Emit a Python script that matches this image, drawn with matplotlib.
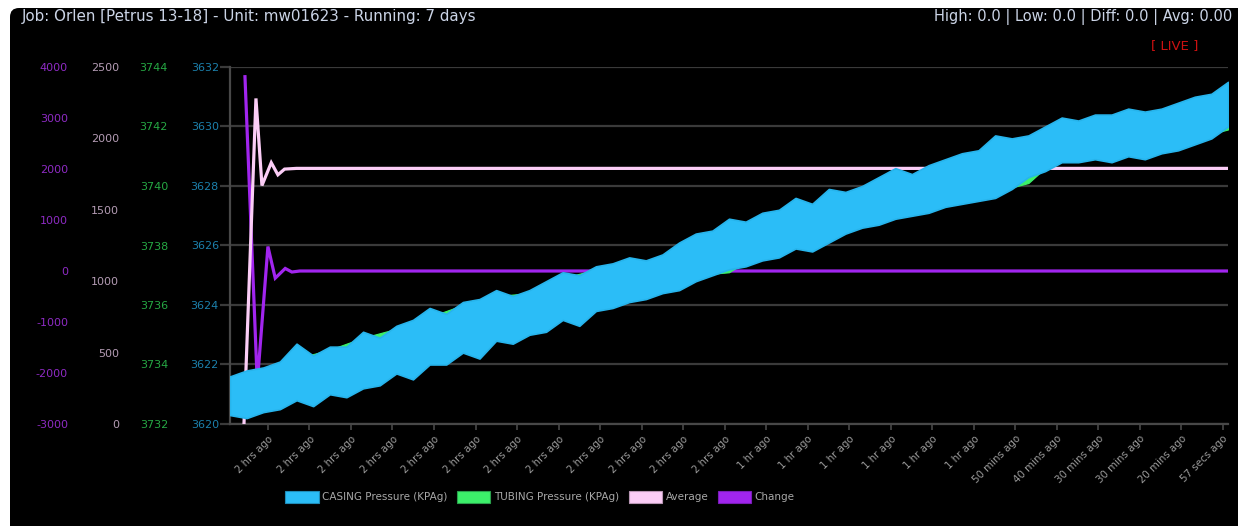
import matplotlib
matplotlib.use('Agg')
import matplotlib.pyplot as plt
import matplotlib.patches as mpatches
from matplotlib.transforms import IdentityTransform
import numpy as np

plt.rcParams['axes.unicode_minus'] = False

# ---------------- data ----------------
title_text = "Job: Orlen [Petrus 13-18] - Unit: mw01623 - Running: 7 days"
stats_text = "High: 0.0 | Low: 0.0 | Diff: 0.0 | Avg: 0.00"
live_text = "[ LIVE ]"

x_tick_labels = [
    "2 hrs ago", "2 hrs ago", "2 hrs ago", "2 hrs ago", "2 hrs ago", "2 hrs ago",
    "2 hrs ago", "2 hrs ago", "2 hrs ago", "2 hrs ago", "2 hrs ago", "2 hrs ago",
    "1 hr ago", "1 hr ago", "1 hr ago", "1 hr ago", "1 hr ago", "1 hr ago",
    "50 mins ago", "40 mins ago", "30 mins ago", "30 mins ago", "20 mins ago", "57 secs ago",
]
x_tick_minutes = [5.7 + 6.24 * i for i in range(len(x_tick_labels))]

# casing pressure band (min / max envelope), sampled every 2.5 minutes
casing_t = np.arange(0, 150.01, 2.5)
casing_top = [3621.6, 3621.8, 3621.9, 3622.1, 3622.7, 3622.3, 3622.6, 3622.6, 3623.1, 3622.9,
              3623.3, 3623.5, 3623.9, 3623.7, 3624.1, 3624.2, 3624.5, 3624.3, 3624.5, 3624.8,
              3625.1, 3625.0, 3625.3, 3625.4, 3625.6, 3625.5, 3625.7, 3626.1, 3626.4, 3626.5,
              3626.9, 3626.8, 3627.1, 3627.2, 3627.6, 3627.4, 3627.9, 3627.8, 3628.0, 3628.3,
              3628.6, 3628.4, 3628.7, 3628.9, 3629.1, 3629.2, 3629.7, 3629.6, 3629.7, 3630.0,
              3630.3, 3630.2, 3630.4, 3630.4, 3630.6, 3630.5, 3630.6, 3630.8, 3631.0, 3631.1,
              3631.5]
casing_bottom = [3620.3, 3620.2, 3620.4, 3620.5, 3620.8, 3620.6, 3621.0, 3620.9, 3621.2, 3621.3,
                 3621.7, 3621.5, 3622.0, 3622.0, 3622.4, 3622.2, 3622.8, 3622.7, 3623.0, 3623.1,
                 3623.5, 3623.3, 3623.8, 3623.9, 3624.1, 3624.2, 3624.4, 3624.5, 3624.8, 3625.0,
                 3625.2, 3625.3, 3625.5, 3625.6, 3625.9, 3625.8, 3626.1, 3626.4, 3626.6, 3626.7,
                 3626.9, 3627.0, 3627.1, 3627.3, 3627.4, 3627.5, 3627.6, 3627.9, 3628.3, 3628.5,
                 3628.8, 3628.8, 3628.9, 3628.8, 3629.0, 3628.9, 3629.1, 3629.2, 3629.4, 3629.6,
                 3630.0]

# tubing pressure band (mostly hidden behind casing), sampled every 5 minutes
tubing_t = np.arange(0, 150.01, 5)
tubing_top = [3733.6, 3733.5, 3734.2, 3734.5, 3734.9, 3735.2, 3735.6, 3736.0, 3736.3, 3736.4,
              3736.9, 3737.2, 3737.4, 3737.6, 3738.1, 3738.6, 3738.9, 3739.2, 3739.6, 3739.9,
              3740.2, 3740.5, 3740.9, 3741.4, 3741.5, 3742.0, 3742.3, 3742.4, 3742.5, 3742.8,
              3743.2]
tubing_bottom = [3732.5, 3732.7, 3733.0, 3733.2, 3733.5, 3733.9, 3734.2, 3734.6, 3735.0, 3735.3,
                 3735.7, 3736.0, 3736.4, 3736.6, 3737.0, 3737.1, 3737.8, 3738.1, 3738.4, 3738.8,
                 3739.2, 3739.3, 3739.6, 3739.8, 3740.1, 3741.1, 3741.1, 3741.2, 3741.3, 3741.6,
                 3741.9]

average_t = [2.1, 3.9, 4.8, 6.2, 7.2, 8.2, 10.0, 150.0]
average_v = [0, 2280, 1670, 1830, 1745, 1785, 1790, 1790]

change_t = [2.25, 4.1, 5.7, 6.8, 8.3, 9.3, 10.5, 150.0]
change_v = [3810, -2200, 480, -140, 50, -20, 0, 0]

series_names = ["CASING Pressure (KPAg)", "TUBING Pressure (KPAg)", "Average", "Change"]

# ---------------- style ----------------
C_BLUE = '#2BBDF7'
C_GREEN = '#3CF06A'
C_PINK = '#FBCDF6'
C_PURPLE = '#A125EE'
GRID = '#3a3a3a'

W, H = 1238, 526
fig = plt.figure(figsize=(W / 100, H / 100), dpi=100, facecolor='white')

# black rounded panel
panel = mpatches.FancyBboxPatch((10, -30), 1260, H - 8 + 30, boxstyle="round,pad=0,rounding_size=9",
                                transform=IdentityTransform(), facecolor='black', edgecolor='none', zorder=-10)
fig.patches.append(panel)

L, R, T, B = 230, 1228, 67, 424
rect = [L / W, (H - B) / H, (R - L) / W, (B - T) / H]

ax = fig.add_axes(rect)
ax.set_facecolor('black')
ax.set_xlim(0, 150)
ax.set_ylim(3620, 3632)
ax.set_yticks(range(3620, 3633, 2))
ax.grid(axis='y', color=GRID, lw=1.6)
ax.set_axisbelow(True)
for s in ['top', 'right']:
    ax.spines[s].set_visible(False)
for s in ['left', 'bottom']:
    ax.spines[s].set_color('#484848')
    ax.spines[s].set_linewidth(1.6)
ax.tick_params(axis='y', length=7.2, width=1.6, color=GRID, labelcolor='#1C80AC', labelsize=8, pad=0.8)
ax.set_xticks(x_tick_minutes)
ax.set_xticklabels(x_tick_labels, rotation=45, ha='right', rotation_mode='anchor',
                   color='#9a9a9a', fontsize=7.4)
ax.tick_params(axis='x', length=4, width=1.2, color='#484848', pad=3)


def make_twin(ylim, ticks, color, pad_px):
    a = ax.twinx()
    a.set_xlim(0, 150)
    a.set_ylim(*ylim)
    a.set_yticks(ticks)
    a.yaxis.tick_left()
    a.tick_params(axis='y', length=0, labelcolor=color, labelsize=8, pad=pad_px * 0.72)
    for s in a.spines.values():
        s.set_visible(False)
    return a


ax_change = make_twin((-3000, 4000), range(-3000, 4001, 1000), '#8E2BC4', 162)
ax_avg = make_twin((0, 2500), range(0, 2501, 500), '#B49CB4', 111)
ax_tub = make_twin((3732, 3744), range(3732, 3745, 2), '#26A844', 62)
ax_cas = ax.twinx()
ax_cas.set_xlim(0, 150)
ax_cas.set_ylim(3620, 3632)
ax_cas.yaxis.set_visible(False)
for s in ax_cas.spines.values():
    s.set_visible(False)

ax_change.plot(change_t, change_v, color=C_PURPLE, lw=2.3, solid_joinstyle='miter')
ax_avg.plot(average_t, average_v, color=C_PINK, lw=2.3, solid_joinstyle='miter')
ax_tub.fill_between(tubing_t, tubing_bottom, tubing_top, color=C_GREEN, lw=0.8, ec=C_GREEN)
ax_cas.fill_between(casing_t, casing_bottom, casing_top, color=C_BLUE, lw=1.2, ec='#27B4EC')

# texts
fig.text(22 / W, 1 - 17 / H, title_text, color='#CBD4E6', fontsize=10.9, va='center', ha='left')
fig.text(1232 / W, 1 - 17 / H, stats_text, color='#CBD4E6', fontsize=10.5, va='center', ha='right')
fig.text(1175 / W, 1 - 46 / H, live_text, color='#CC1111', fontsize=9.5, va='center', ha='center')

# legend
handles = [
    mpatches.Patch(facecolor=C_BLUE, edgecolor='#1f8cb8', lw=0.8),
    mpatches.Patch(facecolor=C_GREEN, edgecolor='#2aa04c', lw=0.8),
    mpatches.Patch(facecolor=C_PINK, edgecolor='#b896b4', lw=0.8),
    mpatches.Patch(facecolor=C_PURPLE, edgecolor='#7a1cb8', lw=0.8),
]
fig.legend(handles, series_names, loc='center', bbox_to_anchor=(540 / W, 1 - 497 / H), ncol=4,
           frameon=False, fontsize=7.5, labelcolor='#a8a8a8', handlelength=3.2, handleheight=1.3,
           handletextpad=0.35, columnspacing=0.9)

fig.savefig('out.png', dpi=100, facecolor='white')
